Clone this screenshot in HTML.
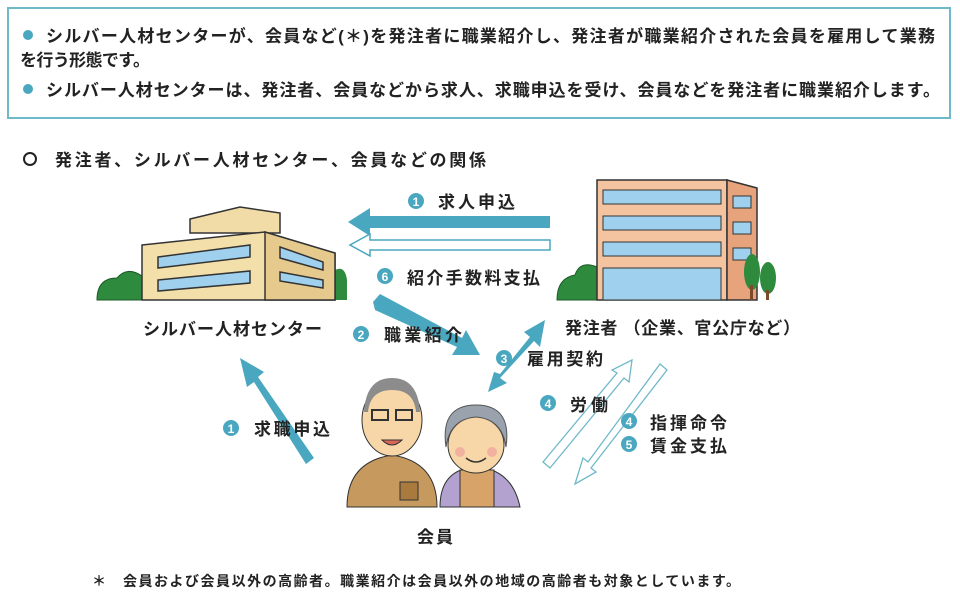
<!DOCTYPE html>
<html><head><meta charset="utf-8"><style>
body{margin:0;width:960px;height:599px;background:#fff;overflow:hidden;font-family:"Liberation Sans","Noto Sans CJK JP",sans-serif;}
svg{position:absolute;left:0;top:0}
text{font-family:"Liberation Sans","Noto Sans CJK JP",sans-serif;font-weight:bold;fill:#222}
text.n{fill:#fff}
</style></head><body>
<svg width="960" height="599" viewBox="0 0 960 599">
<rect x="8" y="8" width="942" height="110" fill="#fff" stroke="#6fb9c9" stroke-width="2"/>
<circle cx="28" cy="35" r="5" fill="#4aa7c0"/>
<circle cx="28" cy="89" r="5" fill="#4aa7c0"/>
<text x="46" y="42" font-size="17" textLength="889" lengthAdjust="spacing">シルバー人材センターが、会員など(＊)を発注者に職業紹介し、発注者が職業紹介された会員を雇用して業務</text>
<text x="20" y="66" font-size="17" textLength="130" lengthAdjust="spacing">を行う形態です。</text>
<text x="46" y="96" font-size="17" textLength="894" lengthAdjust="spacing">シルバー人材センターは、発注者、会員などから求人、求職申込を受け、会員などを発注者に職業紹介します。</text>
<circle cx="30" cy="159" r="6" fill="none" stroke="#222" stroke-width="2"/>
<text x="55" y="166" font-size="17" textLength="431" lengthAdjust="spacing">発注者、シルバー人材センター、会員などの関係</text>

<!-- left building -->
<path d="M97 300 q0-22 20-22 q10-12 25-2 l0 24z" fill="#2e8b3e" stroke="#1d5a27"/>
<path d="M335 300 l0-30 q10-5 12 10 l0 20z" fill="#2e8b3e"/>
<polygon points="190,219 240,207 280,213 280,233 190,233" fill="#f1dca8" stroke="#333" stroke-width="1.5"/>
<polygon points="142,245 265,232 335,253 335,300 142,300" fill="#f3dfaa" stroke="#333" stroke-width="1.5"/>
<polygon points="265,232 335,253 335,300 265,300" fill="#e6c98c" stroke="#333" stroke-width="1.5"/>
<polygon points="158,257 250,245 250,257 158,268" fill="#9fd0ee" stroke="#333" stroke-width="1.5"/>
<polygon points="158,280 250,271 250,283 158,291" fill="#9fd0ee" stroke="#333" stroke-width="1.5"/>
<polygon points="280,247 323,262 323,270 280,258" fill="#9fd0ee" stroke="#333" stroke-width="1.5"/>
<polygon points="280,272 323,280 323,288 280,281" fill="#9fd0ee" stroke="#333" stroke-width="1.5"/>

<!-- right building -->
<path d="M557 300 q0-22 18-25 q5-15 22-8 l0 33z" fill="#2e8b3e" stroke="#1d5a27"/>
<rect x="597" y="180" width="130" height="120" fill="#f4c3a0" stroke="#333" stroke-width="1.5"/>
<polygon points="727,180 757,188 757,300 727,300" fill="#e6a37c" stroke="#333" stroke-width="1.5"/>
<g fill="#9fd0ee" stroke="#333" stroke-width="1">
<rect x="603" y="190" width="118" height="14"/><rect x="603" y="216" width="118" height="14"/><rect x="603" y="242" width="118" height="14"/>
<rect x="603" y="268" width="118" height="32"/>
<rect x="733" y="196" width="18" height="12"/><rect x="733" y="222" width="18" height="12"/><rect x="733" y="248" width="18" height="12"/>
</g>
<ellipse cx="752" cy="272" rx="8" ry="18" fill="#2e8b3e"/><ellipse cx="768" cy="278" rx="8" ry="16" fill="#2e8b3e"/>
<rect x="750" y="285" width="3" height="15" fill="#7a4a2a"/><rect x="766" y="290" width="3" height="10" fill="#7a4a2a"/>

<!-- arrow 1 solid -->
<polygon points="550,216 370,216 370,208 348,222 370,236 370,228 550,228" fill="#4aa7c0"/>
<polygon points="550,240 370,240 370,234 350,245 370,256 370,250 550,250" fill="#fff" stroke="#4aa7c0" stroke-width="1.5"/>
<circle cx="416" cy="201" r="8" fill="#4aa7c0"/><text class="n" x="416" y="206" font-size="12" text-anchor="middle">1</text>
<text x="438" y="208" font-size="17" textLength="77" lengthAdjust="spacing">求人申込</text>
<circle cx="385" cy="276" r="8" fill="#4aa7c0"/><text class="n" x="385" y="281" font-size="12" text-anchor="middle">6</text>
<text x="407" y="284" font-size="17" textLength="133" lengthAdjust="spacing">紹介手数料支払</text>

<text x="143" y="335" font-size="17" textLength="179" lengthAdjust="spacing">シルバー人材センター</text>
<text x="565" y="334" font-size="17" textLength="235" lengthAdjust="spacing">発注者 （企業、官公庁など）</text>

<!-- arrow 2 -->
<polygon points="373,302 380,294 462,338 466,330 480,355 452,355 457,347 375,310" fill="#4aa7c0"/>
<circle cx="361" cy="334" r="8" fill="#4aa7c0"/><text class="n" x="361" y="339" font-size="12" text-anchor="middle">2</text>
<text x="384" y="341" font-size="17" textLength="78" lengthAdjust="spacing">職業紹介</text>
<!-- arrow 3 double -->
<polygon points="545,320 540,347 534,341 500,378 507,383 488,392 494,372 500,374 530,337 524,332" fill="#4aa7c0"/>
<circle cx="504" cy="358" r="8" fill="#4aa7c0"/><text class="n" x="504" y="363" font-size="12" text-anchor="middle">3</text>
<text x="527" y="365" font-size="17" textLength="76" lengthAdjust="spacing">雇用契約</text>
<!-- arrow 1 job application -->
<polygon points="314,458 306,464 254,382 247,387 240,358 264,372 258,377" fill="#4aa7c0"/>
<circle cx="231" cy="428" r="8" fill="#4aa7c0"/><text class="n" x="231" y="433" font-size="12" text-anchor="middle">1</text>
<text x="254" y="435" font-size="17" textLength="76" lengthAdjust="spacing">求職申込</text>

<!-- hollow diagonals -->
<polygon points="543,462 550,468 624,378 629,382 632,360 612,370 617,373" fill="#fff" stroke="#6fb9c9" stroke-width="1.3"/>
<polygon points="667,370 660,364 588,462 583,458 575,484 596,472 591,468" fill="#fff" stroke="#6fb9c9" stroke-width="1.3"/>
<circle cx="548" cy="403" r="8" fill="#4aa7c0"/><text class="n" x="548" y="408" font-size="12" text-anchor="middle">4</text>
<text x="570" y="411" font-size="17" textLength="38" lengthAdjust="spacing">労働</text>
<circle cx="629" cy="421" r="8" fill="#4aa7c0"/><text class="n" x="629" y="426" font-size="12" text-anchor="middle">4</text>
<text x="650" y="429" font-size="17" textLength="77" lengthAdjust="spacing">指揮命令</text>
<circle cx="629" cy="444" r="8" fill="#4aa7c0"/><text class="n" x="629" y="449" font-size="12" text-anchor="middle">5</text>
<text x="650" y="452" font-size="17" textLength="77" lengthAdjust="spacing">賃金支払</text>

<!-- people -->
<path d="M347 507 q0-45 45-52 q45 7 45 52z" fill="#c69a5e" stroke="#333"/>
<rect x="400" y="482" width="18" height="18" fill="#a97a3e" stroke="#333"/>
<ellipse cx="392" cy="420" rx="30" ry="36" fill="#f7d7a8" stroke="#333"/>
<path d="M364 412 q2-34 28-34 q26 0 28 34 l-4 0 q-2-22-24-22 q-22 0-24 22z" fill="#8c8c8c"/>
<rect x="372" y="410" width="16" height="10" fill="none" stroke="#333" stroke-width="2"/><rect x="396" y="410" width="16" height="10" fill="none" stroke="#333" stroke-width="2"/>
<path d="M382 440 q10 10 20 0z" fill="#d9685b" stroke="#333"/>
<path d="M440 507 q0-38 36-40 q36 2 44 40z" fill="#b3a2cf" stroke="#333"/>
<rect x="460" y="470" width="34" height="37" fill="#d7a368" stroke="#333"/>
<ellipse cx="476" cy="445" rx="28" ry="28" fill="#f7d7a8" stroke="#333"/>
<path d="M446 447 q-6-42 30-42 q36 0 30 42 q-4-28-30-30 q-26 2-30 30z" fill="#9aa3ad" stroke="#555"/>
<circle cx="460" cy="452" r="5" fill="#f3b1a0"/><circle cx="492" cy="452" r="5" fill="#f3b1a0"/>
<path d="M466 458 q10 8 20 0" fill="none" stroke="#333" stroke-width="1.5"/>

<text x="417" y="543" font-size="17" textLength="36" lengthAdjust="spacing">会員</text>
<text x="92" y="586" font-size="14" textLength="648" lengthAdjust="spacing">＊　会員および会員以外の高齢者。職業紹介は会員以外の地域の高齢者も対象としています。</text>
</svg>
</body></html>
